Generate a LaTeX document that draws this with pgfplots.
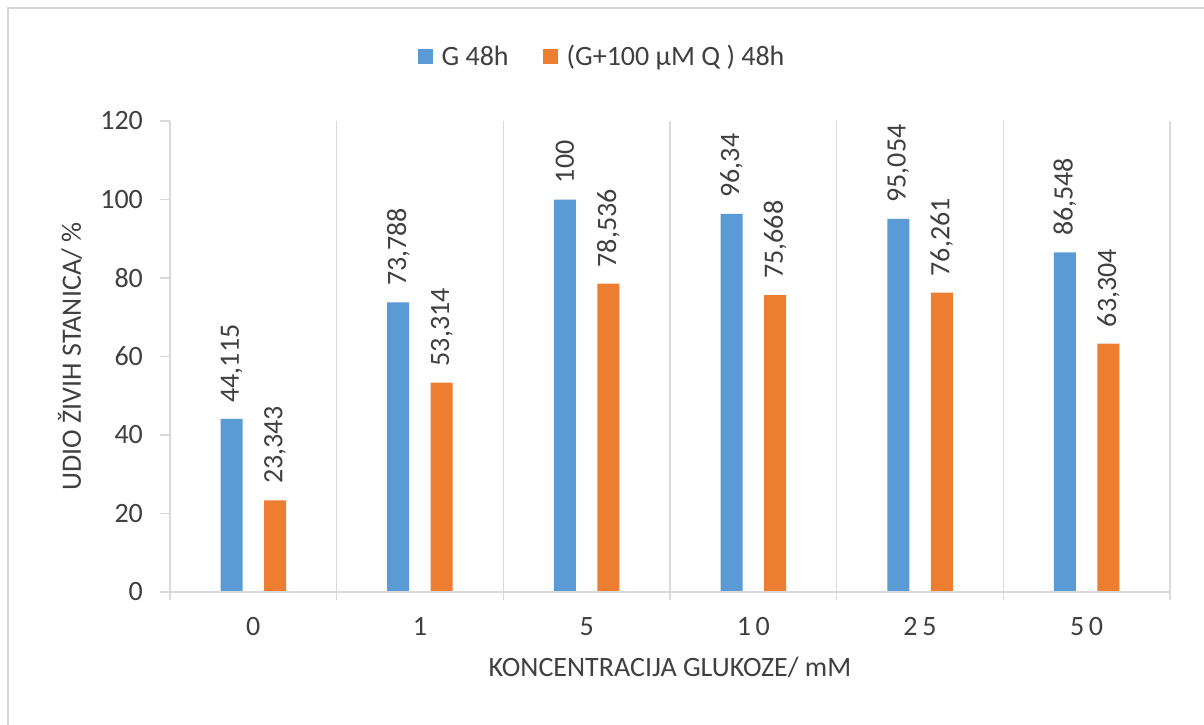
\documentclass[border=0pt]{standalone}
\usepackage{fontspec}
\setmainfont{Carlito}
\usepackage{pgfplots}
\pgfplotsset{compat=1.18}

\definecolor{gblue}{HTML}{5B9BD5}
\definecolor{qorange}{HTML}{ED7D31}
\definecolor{gridgray}{HTML}{D9D9D9}
\definecolor{framegray}{HTML}{D6D6D6}
\definecolor{txt}{HTML}{404040}

\begin{document}
\begin{tikzpicture}
% page area and outer frame
\useasboundingbox (-85pt,-66pt) rectangle (517pt,296pt);
\fill[white] (-85pt,-66pt) rectangle (517pt,296pt);
\draw[framegray, line width=1.4pt] (-81pt,-80pt) -- (-81pt,292pt) -- (540pt,292pt);

\begin{axis}[
  at={(0pt,0pt)}, anchor=south west,
  scale only axis,
  width=500pt, height=235.5pt,
  font=\fontsize{14pt}{16pt}\selectfont,
  text=txt,
  ybar=10.75pt, bar width=11pt,
  xmin=-0.5, xmax=5.5,
  ymin=0, ymax=120,
  ytick={0,20,...,120},
  xtick={0,1,2,3,4,5},
  xticklabels={0,1,5,1\,0,2\,5,5\,0},
  minor xtick={-0.5,0.5,...,5.5},
  xminorgrids,
  minor grid style={draw=gridgray, line width=0.6pt},
  axis line style={draw=none},
  tick align=outside,
  tick pos=left,
  major x tick style={draw=none},
  major y tick style={draw=gridgray, line width=0.6pt},
  minor x tick style={draw=gridgray, line width=0.6pt},
  major tick length=5pt,
  minor tick length=4pt,
  yticklabel style={xshift=-5pt},
  xticklabel style={yshift=-4pt},
  /pgf/number format/.cd, assume math mode=true, use comma, fixed, precision=3, 1000 sep={},
  /pgfplots/.cd,
  xlabel={KONCENTRACIJA GLUKOZE/ mM},
  ylabel={UDIO ŽIVIH STANICA/ \%},
  every axis x label/.style={at={(axis description cs:0.5,-0.161)}, anchor=center},
  every axis y label/.style={at={(axis description cs:-0.1,0.5)}, rotate=90, anchor=center},
  nodes near coords,
  every node near coord/.append style={rotate=90, anchor=west, inner xsep=8pt, inner ysep=0pt, text=txt, font=\fontsize{14pt}{16pt}\selectfont},
  legend columns=2,
  legend style={at={(0.433,1.136)}, anchor=center, draw=none, fill=none,
    font=\fontsize{14pt}{16pt}\selectfont, text=txt,
    /tikz/every even column/.append style={column sep=15pt}},
  legend image code/.code={\fill[#1] (0pt,-3.75pt) rectangle (7.5pt,3.75pt); \path (10pt,0pt);},
]
\addplot[fill=gblue, draw=none] coordinates {
  (0,44.115) (1,73.788) (2,100) (3,96.34) (4,95.054) (5,86.548)};
\addlegendentry{G 48h}
\addplot[fill=qorange, draw=none] coordinates {
  (0,23.343) (1,53.314) (2,78.536) (3,75.668) (4,76.261) (5,63.304)};
\addlegendentry{(G+100 µM Q ) 48h}
\draw[gridgray, line width=0.6pt] (axis cs:-0.5,0) -- (axis cs:5.5,0);
\end{axis}
\end{tikzpicture}
\end{document}
